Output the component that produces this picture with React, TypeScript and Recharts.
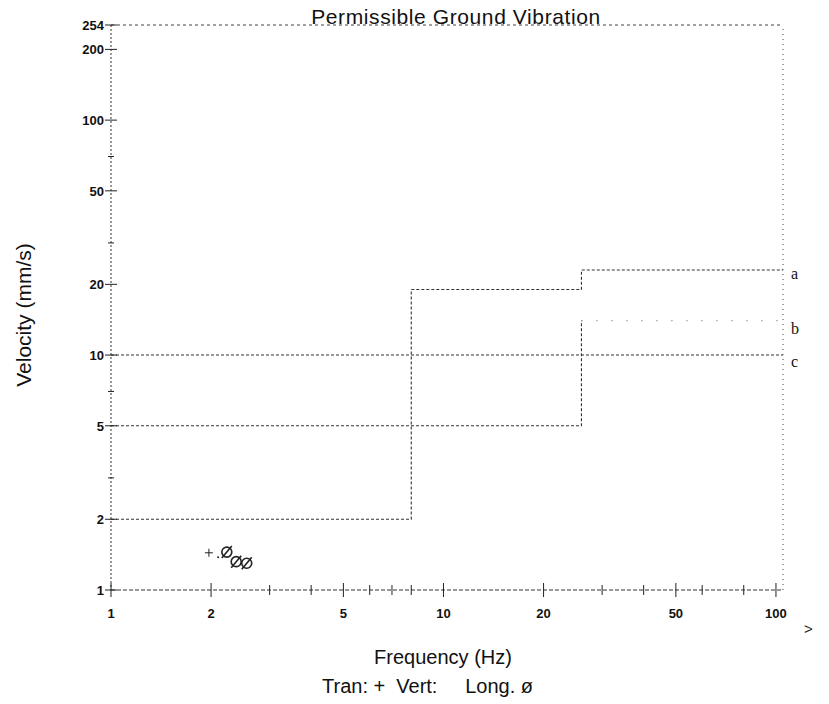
import React from 'react';
import { ComposedChart, Line, Scatter, XAxis, YAxis, ReferenceLine } from 'recharts';

// axis ticks (log-log)
const X_TICKS = [1, 2, 3, 4, 5, 6, 7, 8, 9, 10, 20, 30, 40, 50, 60, 70, 80, 90, 100];
const X_LABELS = [1, 2, 5, 10, 20, 50, 100];
const Y_TICKS = [1, 2, 3, 4, 5, 6, 7, 8, 9, 10, 20, 30, 40, 50, 60, 70, 80, 90, 100, 200, 254];
const Y_LABELS = [1, 2, 5, 10, 20, 50, 100, 200, 254];

// limit curves
const lineAFreq = [1, 8, 8, 26, 26, 105];
const lineAVel = [2, 2, 19, 19, 23, 23];
const lineBFreq = [1, 26, 26];
const lineBVel = [5, 5, 14];
const lineBTailFreq = [26, 105];
const lineBTailVel = [14, 14];
const lineCFreq = [1, 105];
const lineCVel = [10, 10];

// measured events
const tranFreq = [1.97];
const tranVel = [1.44];
const vertFreq = [2.1];
const vertVel = [1.38];
const longFreq = [2.23, 2.38, 2.56];
const longVel = [1.45, 1.32, 1.3];

const pts = (f: number[], v: number[]) => f.map((x, i) => ({ f: x, v: v[i] }));

const INK = '#222';
const FONT = '"Liberation Sans", Arial, sans-serif';

const XTick = (props: any) => {
  const { x, y, payload } = props;
  const major = X_LABELS.includes(payload.value);
  const h = major ? 7 : 5;
  return (
    <g>
      <line x1={x} x2={x} y1={y - h} y2={y + h} stroke={INK} strokeWidth={1} />
      {major && (
        <text x={x} y={y + 28} textAnchor="middle" fontSize={13} fontWeight="bold" fill="#111" fontFamily={FONT}>
          {payload.value}
        </text>
      )}
    </g>
  );
};

const YTick = (props: any) => {
  const { x, y, payload } = props;
  const major = Y_LABELS.includes(payload.value);
  const h = major ? 6 : 3;
  return (
    <g>
      <line x1={x - h} x2={x + h} y1={y} y2={y} stroke={INK} strokeWidth={1} />
      {major && (
        <text x={x - 7} y={y + 5} textAnchor="end" fontSize={13} fontWeight="bold" fill="#111" fontFamily={FONT}>
          {payload.value}
        </text>
      )}
    </g>
  );
};

const endLabel = (text: string, n: number, dy: number) => (p: any) =>
  p.index === n - 1 ? (
    <text x={p.x + 8} y={p.y + dy} fontSize={16} fill="#111" fontFamily='"Liberation Serif", serif'>
      {text}
    </text>
  ) : null;

const Cross = (p: any) => (
  <path d={`M${p.cx - 4},${p.cy}h8M${p.cx},${p.cy - 4}v8`} stroke={INK} strokeWidth={1} fill="none" />
);
const Dot = (p: any) => <circle cx={p.cx} cy={p.cy} r={1} fill={INK} />;
const Slashed = (p: any) => (
  <g>
    <circle cx={p.cx} cy={p.cy} r={5} stroke={INK} strokeWidth={1.6} fill="none" />
    <line x1={p.cx - 5} y1={p.cy + 6} x2={p.cx + 5} y2={p.cy - 6} stroke={INK} strokeWidth={1.6} />
  </g>
);

const lineStyle = { stroke: '#333', strokeWidth: 1.1, strokeDasharray: '3 2' };

export default function App() {
  return (
    <div style={{ position: 'absolute', left: 0, top: 0, width: 829, height: 704, background: '#fff', fontFamily: FONT }}>
      <ComposedChart width={829} height={704} margin={{ top: 25, right: 46, bottom: 84, left: 0 }}>
        <XAxis
          type="number"
          dataKey="f"
          scale="log"
          domain={[1, 105]}
          ticks={X_TICKS}
          tick={<XTick />}
          tickLine={false}
          tickSize={0}
          tickMargin={0}
          height={30}
          allowDataOverflow
          axisLine={{ stroke: '#333', strokeDasharray: '4 2' }}
        />
        <YAxis
          type="number"
          dataKey="v"
          scale="log"
          domain={[1, 254]}
          ticks={Y_TICKS}
          tick={<YTick />}
          tickLine={false}
          tickSize={0}
          tickMargin={0}
          width={111}
          allowDataOverflow
          axisLine={{ stroke: '#333', strokeDasharray: '2 2' }}
        />
        <ReferenceLine y={254} stroke="#444" strokeDasharray="3 3" />
        <ReferenceLine x={105} stroke="#444" strokeDasharray="1 4" />
        <Line data={pts(lineCFreq, lineCVel)} dataKey="v" type="linear" dot={false} isAnimationActive={false} {...lineStyle}
          label={endLabel('c', lineCFreq.length, 12)} />
        <Line data={pts(lineBFreq, lineBVel)} dataKey="v" type="linear" dot={false} isAnimationActive={false} {...lineStyle} />
        <Line data={pts(lineBTailFreq, lineBTailVel)} dataKey="v" type="linear" dot={false} isAnimationActive={false}
          stroke="#555" strokeWidth={1} strokeDasharray="1 14" label={endLabel('b', lineBTailFreq.length, 13)} />
        <Line data={pts(lineAFreq, lineAVel)} dataKey="v" type="linear" dot={false} isAnimationActive={false} {...lineStyle}
          label={endLabel('a', lineAFreq.length, 9)} />
        <Scatter data={pts(tranFreq, tranVel)} shape={<Cross />} isAnimationActive={false} />
        <Scatter data={pts(vertFreq, vertVel)} shape={<Dot />} isAnimationActive={false} />
        <Scatter data={pts(longFreq, longVel)} shape={<Slashed />} isAnimationActive={false} />
      </ComposedChart>

      <div style={{ position: 'absolute', left: 256, width: 400, top: 5, textAlign: 'center', fontSize: 21, letterSpacing: 0.6, color: '#111', whiteSpace: 'nowrap' }}>
        Permissible Ground Vibration
      </div>
      <div
        style={{
          position: 'absolute', left: 24, top: 315, fontSize: 21, color: '#111', whiteSpace: 'nowrap',
          transform: 'translate(-50%, -50%) rotate(-90deg)',
        }}
      >
        Velocity (mm/s)
      </div>
      <div style={{ position: 'absolute', left: 804, top: 620, fontSize: 15, color: '#222' }}>&gt;</div>
      <div style={{ position: 'absolute', left: 293, width: 300, top: 646, lineHeight: '22px', textAlign: 'center', fontSize: 20, color: '#111', whiteSpace: 'nowrap' }}>
        Frequency (Hz)
      </div>
      <div style={{ position: 'absolute', left: 322, top: 675, lineHeight: '22px', fontSize: 20, color: '#111', whiteSpace: 'pre' }}>
        {'Tran: +  Vert:     Long. ø'}
      </div>
    </div>
  );
}
